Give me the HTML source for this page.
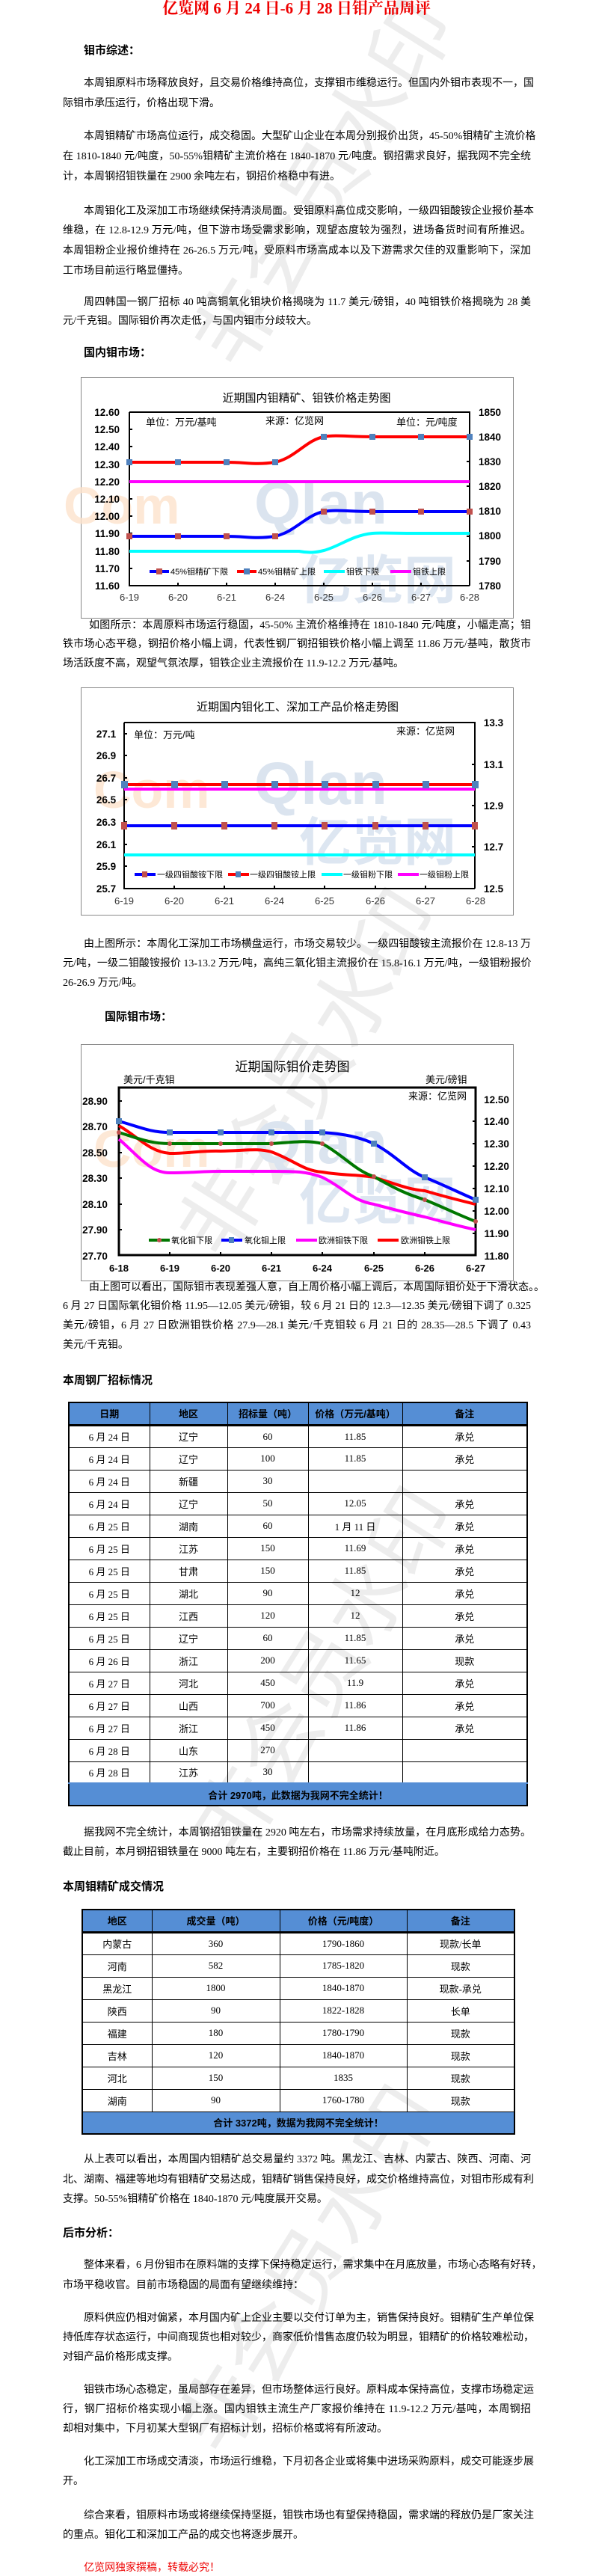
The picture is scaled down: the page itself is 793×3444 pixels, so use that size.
<!DOCTYPE html>
<html><head><meta charset="utf-8">
<style>
*{margin:0;padding:0;box-sizing:border-box}
body{width:793px;height:3441px;position:relative;background:#fff;overflow:hidden;font-family:"Liberation Serif","Noto Sans CJK SC",serif;color:#000}
.l{position:absolute;left:84px;width:626px;font-size:14px;line-height:20px;white-space:nowrap;font-family:"Liberation Serif","Noto Sans CJK SC",sans-serif}
.j{text-align:justify;text-align-last:justify}
.h{position:absolute;font-size:15px;font-weight:bold;line-height:20px;white-space:nowrap;font-family:"Liberation Sans","Noto Sans CJK SC",sans-serif}
.wm{position:absolute;font-size:110px;color:#ededed;font-family:"Noto Sans CJK SC",sans-serif;transform:rotate(-58deg);white-space:nowrap;z-index:0}
table{position:absolute;border-collapse:collapse;font-size:13px;font-family:"Liberation Serif","Noto Sans CJK SC",sans-serif;table-layout:fixed}
td,th{border:1px solid #000;text-align:center;padding:0}
th{background:#558ed5;font-weight:bold;font-family:"Liberation Sans","Noto Sans CJK SC",sans-serif}
.ft td{background:#558ed5;font-weight:bold;font-family:"Liberation Sans","Noto Sans CJK SC",sans-serif}
svg{position:absolute;left:0}
svg text{font-family:"Liberation Sans","Noto Sans CJK SC",sans-serif}
</style></head><body>
<div class="wm" style="left:150px;top:160px">非会员水印</div>
<div class="wm" style="left:130px;top:1350px">非会员水印</div>
<div class="wm" style="left:150px;top:2150px">非会员水印</div>
<div class="wm" style="left:130px;top:2950px">非会员水印</div>

<div style="position:absolute;left:0;width:793px;top:-2px;text-align:center;font-size:21px;font-weight:bold;color:#e00;font-family:'Liberation Serif','Noto Serif CJK SC',serif;line-height:26px">亿览网 6 月 24 日-6 月 28 日钼产品周评</div>

<div class="h" style="left:112px;top:58px">钼市综述：</div>
<div class="l j" style="top:102px;left:112px;width:598px">本周钼原料市场释放良好，且交易价格维持高位，支撑钼市维稳运行。但国内外钼市表现不一，国</div>
<div class="l" style="top:129px">际钼市承压运行，价格出现下滑。</div>
<div class="l j" style="top:173px;left:112px;width:598px">本周钼精矿市场高位运行，成交稳固。大型矿山企业在本周分别报价出货，45-50%钼精矿主流价格</div>
<div class="l j" style="top:200px">在 1810-1840 元/吨度，50-55%钼精矿主流价格在 1840-1870 元/吨度。钢招需求良好，据我网不完全统</div>
<div class="l" style="top:227px">计，本周钢招钼铁量在 2900 余吨左右，钢招价格稳中有进。</div>
<div class="l j" style="top:273px;left:112px;width:598px">本周钼化工及深加工市场继续保持清淡局面。受钼原料高位成交影响，一级四钼酸铵企业报价基本</div>
<div class="l j" style="top:299px">维稳，在 12.8-12.9 万元/吨，但下游市场受需求影响，观望态度较为强烈，进场备货时间有所推迟。</div>
<div class="l j" style="top:326px">本周钼粉企业报价维持在 26-26.5 万元/吨，受原料市场高成本以及下游需求欠佳的双重影响下，深加</div>
<div class="l" style="top:353px">工市场目前运行略显僵持。</div>
<div class="l j" style="top:395px;left:112px;width:598px">周四韩国一钢厂招标 40 吨高铜氧化钼块价格揭晓为 11.7 美元/磅钼，40 吨钼铁价格揭晓为 28 美</div>
<div class="l" style="top:420px">元/千克钼。国际钼价再次走低，与国内钼市分歧较大。</div>
<div class="h" style="left:112px;top:462px">国内钼市场：</div>

<!-- Chart 1 -->
<svg style="top:504px" width="793" height="324" viewBox="0 504 793 324">
<rect x="108.5" y="504.5" width="578" height="322" fill="none" stroke="#888"/>
<text x="85" y="700" font-size="70" font-weight="bold" fill="#fde3cc" opacity=".8">Com</text>
<text x="340" y="700" font-size="80" font-weight="bold" fill="#dbe4ef">Qlan</text>
<text x="400" y="800" font-size="70" font-weight="bold" fill="#dde6f1">亿览网</text>
<text x="410" y="537" font-size="15" text-anchor="middle" fill="#000">近期国内钼精矿、钼铁价格走势图</text>
<g font-size="13.5" font-weight="bold" text-anchor="end">
<text x="160" y="556">12.60</text><text x="160" y="579">12.50</text><text x="160" y="602">12.40</text><text x="160" y="626">12.30</text><text x="160" y="649">12.20</text><text x="160" y="672">12.10</text><text x="160" y="695">12.00</text><text x="160" y="718">11.90</text><text x="160" y="742">11.80</text><text x="160" y="765">11.70</text><text x="160" y="788">11.60</text>
</g>
<g font-size="13.5" font-weight="bold">
<text x="640" y="556">1850</text><text x="640" y="589">1840</text><text x="640" y="622">1830</text><text x="640" y="655">1820</text><text x="640" y="688">1810</text><text x="640" y="721">1800</text><text x="640" y="755">1790</text><text x="640" y="788">1780</text>
</g>
<g font-size="13" text-anchor="middle" fill="#333">
<text x="173" y="803">6-19</text><text x="238" y="803">6-20</text><text x="303" y="803">6-21</text><text x="368" y="803">6-24</text><text x="433" y="803">6-25</text><text x="498" y="803">6-26</text><text x="563" y="803">6-27</text><text x="628" y="803">6-28</text>
</g>
<g font-size="13"><text x="195" y="569">单位：万元/基吨</text><text x="355" y="567">来源：亿览网</text><text x="530" y="569">单位：元/吨度</text></g>
<path d="M173 551V783H628" fill="none" stroke="#000" stroke-width="2"/>
<path d="M173 551H628V783" fill="none" stroke="#000" stroke-width="2" stroke-dasharray="0"/>
<g stroke="#000" stroke-width="2"><path d="M173 574h4M173 597h4M173 620h4M173 644h4M173 667h4M173 690h4M173 713h4M173 736h4M173 760h4M238 783v-4M303 783v-4M368 783v-4M433 783v-4M498 783v-4M563 783v-4M628 584h-4M628 617h-4M628 650h-4M628 684h-4M628 717h-4M628 750h-4"/></g>
<path d="M173 644H628" stroke="#f0f" stroke-width="4" fill="none"/>
<path d="M173 737L400 737C415 740 425 738 433 736C455 730 470 716 498 713C510 712 520 713 563 713L628 713" stroke="#0ff" stroke-width="4" fill="none"/>
<path d="M173 618L303 618C330 618 340 622 368 618C395 612 410 588 433 584C450 581 465 584 498 584L628 584" stroke="#f00" stroke-width="4" fill="none"/>
<path d="M173 717L303 717C330 717 340 721 368 717C395 711 410 688 433 684C450 681 465 684 498 684L628 684" stroke="#00f" stroke-width="4" fill="none"/>
<g fill="#4f81bd"><rect x="169" y="614" width="8" height="8"/><rect x="234" y="614" width="8" height="8"/><rect x="299" y="614" width="8" height="8"/><rect x="364" y="614" width="8" height="8"/><rect x="429" y="580" width="8" height="8"/><rect x="494" y="580" width="8" height="8"/><rect x="559" y="580" width="8" height="8"/><rect x="624" y="580" width="8" height="8"/></g>
<g fill="#c0504d"><rect x="169" y="713" width="8" height="8"/><rect x="234" y="713" width="8" height="8"/><rect x="299" y="713" width="8" height="8"/><rect x="364" y="713" width="8" height="8"/><rect x="429" y="680" width="8" height="8"/><rect x="494" y="680" width="8" height="8"/><rect x="559" y="680" width="8" height="8"/><rect x="624" y="680" width="8" height="8"/></g>
<g font-size="11">
<path d="M200 764h26" stroke="#00f" stroke-width="4"/><rect x="209" y="760" width="8" height="8" fill="#c0504d"/><text x="228" y="768">45%钼精矿下限</text>
<path d="M317 764h26" stroke="#f00" stroke-width="4"/><rect x="326" y="760" width="8" height="8" fill="#4f81bd"/><text x="345" y="768">45%钼精矿上限</text>
<path d="M433 764h28" stroke="#0ff" stroke-width="4"/><text x="463" y="768">钼铁下限</text>
<path d="M522 764h28" stroke="#f0f" stroke-width="4"/><text x="552" y="768">钼铁上限</text>
</g>
</svg>

<div class="l j" style="top:827px;left:119px;width:591px">如图所示：本周原料市场运行稳固，45-50% 主流价格维持在 1810-1840 元/吨度，小幅走高；钼</div>
<div class="l j" style="top:852px">铁市场心态平稳，钢招价格小幅上调，代表性钢厂钢招钼铁价格小幅上调至 11.86 万元/基吨，散货市</div>
<div class="l" style="top:878px">场活跃度不高，观望气氛浓厚，钼铁企业主流报价在 11.9-12.2 万元/基吨。</div>

<!-- Chart 2 -->
<svg style="top:919px" width="793" height="306" viewBox="0 919 793 306">
<rect x="108.5" y="919.5" width="578" height="304" fill="none" stroke="#888"/>
<text x="125" y="1080" font-size="70" font-weight="bold" fill="#fde3cc" opacity=".8">Com</text>
<text x="340" y="1075" font-size="80" font-weight="bold" fill="#dbe4ef">Qlan</text>
<text x="400" y="1150" font-size="70" font-weight="bold" fill="#dde6f1">亿览网</text>
<text x="398" y="950" font-size="15" text-anchor="middle">近期国内钼化工、深加工产品价格走势图</text>
<g font-size="13.5" font-weight="bold" text-anchor="middle">
<text x="142" y="986">27.1</text><text x="142" y="1015">26.9</text><text x="142" y="1045">26.7</text><text x="142" y="1074">26.5</text><text x="142" y="1104">26.3</text><text x="142" y="1134">26.1</text><text x="142" y="1163">25.9</text><text x="142" y="1193">25.7</text>
<text x="660" y="971">13.3</text><text x="660" y="1027">13.1</text><text x="660" y="1082">12.9</text><text x="660" y="1137">12.7</text><text x="660" y="1193">12.5</text>
</g>
<g font-size="13" text-anchor="middle" fill="#333">
<text x="166" y="1209">6-19</text><text x="233" y="1209">6-20</text><text x="300" y="1209">6-21</text><text x="367" y="1209">6-24</text><text x="434" y="1209">6-25</text><text x="502" y="1209">6-26</text><text x="569" y="1209">6-27</text><text x="636" y="1209">6-28</text>
</g>
<g font-size="13"><text x="179" y="987">单位：万元/吨</text><text x="530" y="982">来源：亿览网</text></g>
<path d="M166 966V1188H635" fill="none" stroke="#000" stroke-width="2"/>
<path d="M166 966H635V1188" fill="none" stroke="#000" stroke-width="2"/>
<g stroke="#000" stroke-width="2"><path d="M166 981h4M166 1010h4M166 1040h4M166 1069h4M166 1099h4M166 1129h4M166 1158h4M233 1188v-4M300 1188v-4M367 1188v-4M434 1188v-4M502 1188v-4M569 1188v-4M635 1022h-4M635 1077h-4M635 1132h-4"/></g>
<path d="M166 1055H635" stroke="#f0f" stroke-width="4"/>
<path d="M166 1049H635" stroke="#f00" stroke-width="4"/>
<path d="M166 1104H635" stroke="#00f" stroke-width="4"/>
<path d="M166 1143H635" stroke="#0ff" stroke-width="4"/>
<g fill="#4f81bd"><rect x="162" y="1044" width="9" height="10"/><rect x="229" y="1044" width="9" height="10"/><rect x="296" y="1044" width="9" height="10"/><rect x="363" y="1044" width="9" height="10"/><rect x="430" y="1044" width="9" height="10"/><rect x="498" y="1044" width="9" height="10"/><rect x="565" y="1044" width="9" height="10"/><rect x="631" y="1044" width="9" height="10"/></g>
<g fill="#c0504d"><rect x="162" y="1099" width="8" height="10"/><rect x="229" y="1099" width="8" height="10"/><rect x="296" y="1099" width="8" height="10"/><rect x="363" y="1099" width="8" height="10"/><rect x="430" y="1099" width="8" height="10"/><rect x="498" y="1099" width="8" height="10"/><rect x="565" y="1099" width="8" height="10"/><rect x="631" y="1099" width="8" height="10"/></g>
<g font-size="11">
<path d="M180 1169h28" stroke="#00f" stroke-width="4"/><rect x="190" y="1165" width="7" height="8" fill="#c0504d"/><text x="210" y="1173">一级四钼酸铵下限</text>
<path d="M305 1169h28" stroke="#f00" stroke-width="4"/><rect x="315" y="1165" width="7" height="8" fill="#4f81bd"/><text x="334" y="1173">一级四钼酸铵上限</text>
<path d="M430 1169h28" stroke="#0ff" stroke-width="4"/><text x="459" y="1173">一级钼粉下限</text>
<path d="M532 1169h28" stroke="#f0f" stroke-width="4"/><text x="561" y="1173">一级钼粉上限</text>
</g>
</svg>

<div class="l j" style="top:1253px;left:112px;width:598px">由上图所示：本周化工深加工市场横盘运行，市场交易较少。一级四钼酸铵主流报价在 12.8-13 万</div>
<div class="l j" style="top:1279px">元/吨，一级二钼酸铵报价 13-13.2 万元/吨，高纯三氧化钼主流报价在 15.8-16.1 万元/吨，一级钼粉报价</div>
<div class="l" style="top:1305px">26-26.9 万元/吨。</div>
<div class="h" style="left:140px;top:1350px">国际钼市场：</div>

<!-- Chart 3 -->
<svg style="top:1396px" width="793" height="318" viewBox="0 1396 793 318">
<rect x="108.5" y="1396.5" width="578" height="316" fill="none" stroke="#888"/>
<text x="125" y="1560" font-size="70" font-weight="bold" fill="#fde3cc" opacity=".8">Com</text>
<text x="340" y="1555" font-size="80" font-weight="bold" fill="#dbe4ef">Qlan</text>
<text x="400" y="1630" font-size="70" font-weight="bold" fill="#dde6f1">亿览网</text>
<text x="391" y="1432" font-size="17" text-anchor="middle">近期国际钼价走势图</text>
<g font-size="13"><text x="165" y="1448">美元/千克钼</text><text x="569" y="1448">美元/磅钼</text><text x="546" y="1470">来源：亿览网</text></g>
<g font-size="13.5" font-weight="bold" text-anchor="middle">
<text x="127" y="1477">28.90</text><text x="127" y="1511">28.70</text><text x="127" y="1546">28.50</text><text x="127" y="1580">28.30</text><text x="127" y="1615">28.10</text><text x="127" y="1649">27.90</text><text x="127" y="1684">27.70</text>
<text x="664" y="1475">12.50</text><text x="664" y="1504">12.40</text><text x="664" y="1534">12.30</text><text x="664" y="1564">12.20</text><text x="664" y="1594">12.10</text><text x="664" y="1624">12.00</text><text x="664" y="1654">11.90</text><text x="664" y="1684">11.80</text>
</g>
<g font-size="13" font-weight="bold" text-anchor="middle">
<text x="159" y="1700">6-18</text><text x="227" y="1700">6-19</text><text x="295" y="1700">6-20</text><text x="363" y="1700">6-21</text><text x="431" y="1700">6-24</text><text x="500" y="1700">6-25</text><text x="568" y="1700">6-26</text><text x="636" y="1700">6-27</text>
</g>
<rect x="159" y="1454" width="477" height="224" fill="none" stroke="#000" stroke-width="3"/>
<g stroke="#000" stroke-width="2"><path d="M159 1472h4M159 1506h4M159 1541h4M159 1575h4M159 1610h4M159 1644h4M227 1678v-4M295 1678v-4M363 1678v-4M431 1678v-4M500 1678v-4M568 1678v-4M636 1499h-4M636 1529h-4M636 1559h-4M636 1589h-4M636 1619h-4M636 1649h-4"/></g>
<path d="M159 1523C185 1545 200 1568 227 1568C255 1568 270 1566 295 1566L363 1566C395 1566 410 1566 431 1574C460 1588 470 1605 500 1610C530 1618 545 1622 568 1627C595 1634 615 1640 636 1644" stroke="#f0f" stroke-width="4" fill="none"/>
<path d="M159 1505C185 1520 200 1540 227 1542C255 1542 270 1538 295 1539C330 1538 345 1535 363 1540C395 1552 405 1565 431 1567C460 1572 480 1570 500 1574C530 1583 545 1590 568 1592C595 1600 615 1605 636 1610" stroke="#f00" stroke-width="4" fill="none"/>
<path d="M159 1514C185 1522 200 1529 227 1529L363 1529C395 1527 410 1524 431 1529C460 1545 475 1565 500 1573C530 1590 545 1597 568 1604C595 1615 615 1625 636 1633" stroke="#070" stroke-width="4" fill="none"/>
<path d="M159 1499C185 1506 200 1514 227 1514L431 1514C460 1516 480 1520 500 1529C530 1545 545 1565 568 1574C595 1585 615 1595 636 1604" stroke="#00f" stroke-width="4" fill="none"/>
<g fill="#4f81bd"><rect x="155" y="1495" width="8" height="8"/><rect x="223" y="1510" width="8" height="8"/><rect x="291" y="1510" width="8" height="8"/><rect x="359" y="1510" width="8" height="8"/><rect x="427" y="1510" width="8" height="8"/><rect x="496" y="1525" width="8" height="8"/><rect x="564" y="1570" width="8" height="8"/><rect x="632" y="1600" width="8" height="8"/></g>
<g fill="#c0504d"><circle cx="159" cy="1514" r="3"/><circle cx="227" cy="1529" r="3"/><circle cx="295" cy="1529" r="3"/><circle cx="363" cy="1529" r="3"/><circle cx="431" cy="1529" r="3"/><circle cx="500" cy="1573" r="3"/><circle cx="568" cy="1604" r="3"/><circle cx="636" cy="1633" r="3"/></g>
<g font-size="11">
<path d="M199 1658h28" stroke="#070" stroke-width="4"/><circle cx="213" cy="1658" r="3" fill="#c0504d"/><text x="229" y="1662">氧化钼下限</text>
<path d="M296 1658h28" stroke="#00f" stroke-width="4"/><rect x="306" y="1654" width="7" height="8" fill="#4f81bd"/><text x="327" y="1662">氧化钼上限</text>
<path d="M396 1658h28" stroke="#f0f" stroke-width="4"/><text x="426" y="1662">欧洲钼铁下限</text>
<path d="M505 1658h28" stroke="#f00" stroke-width="4"/><text x="536" y="1662">欧洲钼铁上限</text>
</g>
</svg>

<div class="l j" style="top:1712px;left:119px;width:591px">由上图可以看出，国际钼市表现差强人意，自上周价格小幅上调后，本周国际钼价处于下滑状态。。</div>
<div class="l j" style="top:1737px">6 月 27 日国际氧化钼价格 11.95—12.05 美元/磅钼，较 6 月 21 日的 12.3—12.35 美元/磅钼下调了 0.325</div>
<div class="l j" style="top:1763px">美元/磅钼，6 月 27 日欧洲钼铁价格 27.9—28.1 美元/千克钼较 6 月 21 日的 28.35—28.5 下调了 0.43</div>
<div class="l" style="top:1789px">美元/千克钼。</div>
<div class="h" style="left:84px;top:1836px">本周钢厂招标情况</div>

<table style="left:91px;top:1874px;width:613px;border:2px solid #000">
<colgroup><col style="width:108px"><col style="width:104px"><col style="width:108px"><col style="width:126px"><col style="width:167px"></colgroup>
<tr style="height:30px;border-bottom:3px solid #000"><th>日期</th><th>地区</th><th>招标量（吨）</th><th>价格（万元/基吨）</th><th>备注</th></tr>
<tr style="height:30px"><td>6 月 24 日</td><td>辽宁</td><td>60</td><td>11.85</td><td>承兑</td></tr>
<tr style="height:30px"><td>6 月 24 日</td><td>辽宁</td><td>100</td><td>11.85</td><td>承兑</td></tr>
<tr style="height:30px"><td>6 月 24 日</td><td>新疆</td><td>30</td><td></td><td></td></tr>
<tr style="height:30px"><td>6 月 24 日</td><td>辽宁</td><td>50</td><td>12.05</td><td>承兑</td></tr>
<tr style="height:30px"><td>6 月 25 日</td><td>湖南</td><td>60</td><td>1 月 11 日</td><td>承兑</td></tr>
<tr style="height:30px"><td>6 月 25 日</td><td>江苏</td><td>150</td><td>11.69</td><td>承兑</td></tr>
<tr style="height:30px"><td>6 月 25 日</td><td>甘肃</td><td>150</td><td>11.85</td><td>承兑</td></tr>
<tr style="height:30px"><td>6 月 25 日</td><td>湖北</td><td>90</td><td>12</td><td>承兑</td></tr>
<tr style="height:30px"><td>6 月 25 日</td><td>江西</td><td>120</td><td>12</td><td>承兑</td></tr>
<tr style="height:30px"><td>6 月 25 日</td><td>辽宁</td><td>60</td><td>11.85</td><td>承兑</td></tr>
<tr style="height:30px"><td>6 月 26 日</td><td>浙江</td><td>200</td><td>11.65</td><td>现款</td></tr>
<tr style="height:30px"><td>6 月 27 日</td><td>河北</td><td>450</td><td>11.9</td><td>承兑</td></tr>
<tr style="height:30px"><td>6 月 27 日</td><td>山西</td><td>700</td><td>11.86</td><td>承兑</td></tr>
<tr style="height:30px"><td>6 月 27 日</td><td>浙江</td><td>450</td><td>11.86</td><td>承兑</td></tr>
<tr style="height:30px"><td>6 月 28 日</td><td>山东</td><td>270</td><td></td><td></td></tr>
<tr style="height:29px"><td>6 月 28 日</td><td>江苏</td><td>30</td><td></td><td></td></tr>
<tr class="ft" style="height:30px;border-top:2px solid #558ed5"><td colspan="5">合计 2970吨，此数据为我网不完全统计！</td></tr>
</table>

<div class="l j" style="top:2441px;left:112px;width:598px">据我网不完全统计，本周钢招钼铁量在 2920 吨左右，市场需求持续放量，在月底形成给力态势。</div>
<div class="l" style="top:2467px">截止目前，本月钢招钼铁量在 9000 吨左右，主要钢招价格在 11.86 万元/基吨附近。</div>
<div class="h" style="left:84px;top:2513px">本周钼精矿成交情况</div>

<table style="left:109px;top:2552px;width:578px;border:2px solid #000">
<colgroup><col style="width:93px"><col style="width:171px"><col style="width:170px"><col style="width:144px"></colgroup>
<tr style="height:30px;border-bottom:3px solid #000"><th>地区</th><th>成交量（吨）</th><th>价格（元/吨度）</th><th>备注</th></tr>
<tr style="height:30px"><td>内蒙古</td><td>360</td><td>1790-1860</td><td>现款/长单</td></tr>
<tr style="height:30px"><td>河南</td><td>582</td><td>1785-1820</td><td>现款</td></tr>
<tr style="height:30px"><td>黑龙江</td><td>1800</td><td>1840-1870</td><td>现款-承兑</td></tr>
<tr style="height:30px"><td>陕西</td><td>90</td><td>1822-1828</td><td>长单</td></tr>
<tr style="height:30px"><td>福建</td><td>180</td><td>1780-1790</td><td>现款</td></tr>
<tr style="height:30px"><td>吉林</td><td>120</td><td>1840-1870</td><td>现款</td></tr>
<tr style="height:30px"><td>河北</td><td>150</td><td>1835</td><td>现款</td></tr>
<tr style="height:30px"><td>湖南</td><td>90</td><td>1760-1780</td><td>现款</td></tr>
<tr class="ft" style="height:30px"><td colspan="4">合计 3372吨，数据为我网不完全统计！</td></tr>
</table>

<div class="l j" style="top:2878px;left:112px;width:598px">从上表可以看出，本周国内钼精矿总交易量约 3372 吨。黑龙江、吉林、内蒙古、陕西、河南、河</div>
<div class="l j" style="top:2905px">北、湖南、福建等地均有钼精矿交易达成，钼精矿销售保持良好，成交价格维持高位，对钼市形成有利</div>
<div class="l" style="top:2931px">支撑。50-55%钼精矿价格在 1840-1870 元/吨度展开交易。</div>
<div class="h" style="left:84px;top:2976px">后市分析：</div>
<div class="l j" style="top:3019px;left:112px;width:598px">整体来看，6 月份钼市在原料端的支撑下保持稳定运行，需求集中在月底放量，市场心态略有好转，</div>
<div class="l" style="top:3046px">市场平稳收官。目前市场稳固的局面有望继续维持：</div>
<div class="l j" style="top:3090px;left:112px;width:598px">原料供应仍相对偏紧，本月国内矿上企业主要以交付订单为主，销售保持良好。钼精矿生产单位保</div>
<div class="l j" style="top:3116px">持低库存状态运行，中间商现货也相对较少，商家低价惜售态度仍较为明显，钼精矿的价格较难松动，</div>
<div class="l" style="top:3142px">对钼产品价格形成支撑。</div>
<div class="l j" style="top:3186px;left:112px;width:598px">钼铁市场心态稳定，虽局部存在差异，但市场整体运行良好。原料成本保持高位，支撑市场稳定运</div>
<div class="l j" style="top:3212px">行，钢厂招标价格实现小幅上涨。国内钼铁主流生产厂家报价维持在 11.9-12.2 万元/基吨，本周钢招</div>
<div class="l" style="top:3238px">却相对集中，下月初某大型钢厂有招标计划，招标价格或将有所波动。</div>
<div class="l j" style="top:3282px;left:112px;width:598px">化工深加工市场成交清淡，市场运行维稳，下月初各企业或将集中进场采购原料，成交可能逐步展</div>
<div class="l" style="top:3308px">开。</div>
<div class="l j" style="top:3354px;left:112px;width:598px">综合来看，钼原料市场或将继续保持坚挺，钼铁市场也有望保持稳固，需求端的释放仍是厂家关注</div>
<div class="l" style="top:3380px">的重点。钼化工和深加工产品的成交也将逐步展开。</div>
<div class="l" style="top:3424px;left:112px;color:#e00">亿览网独家撰稿，转载必究！</div>
</body></html>
